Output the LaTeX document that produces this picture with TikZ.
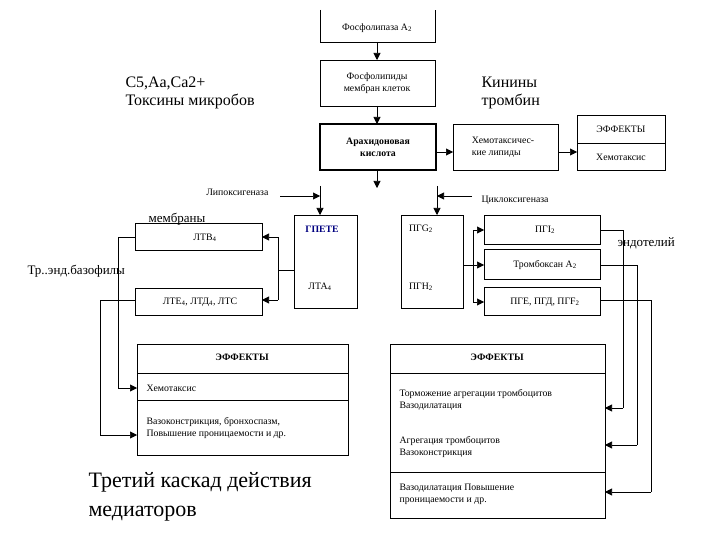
\documentclass[tikz,border=0pt]{standalone}
\usepackage{fontspec}
\setmainfont{Liberation Serif}
\usetikzlibrary{arrows.meta}
\begin{document}
\begin{tikzpicture}[x=1pt,y=-1pt,
  bx/.style={draw,line width=0.6pt},
  sm/.style={font=\fontsize{9.8}{12}\selectfont},
  big/.style={font=\fontsize{16}{18}\selectfont,align=left,anchor=west},
  ar/.style={-{Triangle[length=7pt,width=7pt]},line width=0.6pt},
  ln/.style={line width=0.6pt}]
\useasboundingbox (0,0) rectangle (720,540);
% top chain
\draw[bx] (320,10) -- (320,42) -- (435,42) -- (435,10);
\node[sm] (pla) at (377,28) {Фосфолипаза A\textsubscript{2}};
\draw[bx] (320,60) rectangle (435,106);
\node[sm,align=center] (fl) at (377,83) {Фосфолипиды\\мембран клеток};
\draw[bx,line width=1.8pt] (320,124) rectangle (436,170);
\node[sm,align=center,font=\fontsize{9.8}{12}\selectfont\bfseries] (ak) at (378,147) {Арахидоновая\\кислота};
\draw[ar] (377,42) -- (377,60);
\draw[ar] (377,106) -- (377,124);
\draw[ar] (377,170) -- (377,188);
\draw[bx] (453,124) rectangle (558,170);
\node[sm,align=left] (hl) at (503,147) {Хемотаксичес-\\кие липиды};
\draw[ar] (436,152) -- (453,152);
\draw[bx] (577,115) rectangle (665,170);
\draw[ln] (577,143) -- (665,143);
\node[sm] (ef1) at (621,129) {ЭФФЕКТЫ};
\node[sm] (ef1b) at (621,157) {Хемотаксис};
\draw[ar] (558,152) -- (577,152);
% big labels
\node[big] (c5) at (122,93) {С5,Аа,Са2+\\Токсины микробов};
\node[big] (kin) at (478,93) {Кинины\\тромбин};
% enzymes
\node[sm,anchor=east] (lox) at (272,192) {Липоксигеназа};
\node[sm,anchor=west] (cox) at (478,200) {Циклоксигеназа};
\draw[ar] (320,186) -- (320,215);
\draw[ar] (280,196) -- (320,196);
\draw[ar] (437,186) -- (437,215);
\draw[ar] (472,196) -- (437,196);
% middle boxes
\draw[bx] (294,215) rectangle (357,308);
\node[sm,font=\fontsize{9.8}{12}\selectfont\bfseries,text=blue!50!black] (gpete) at (322,229) {ГПЕТЕ};
\node[sm] (lta) at (320,287) {ЛТА\textsubscript{4}};
\draw[bx] (401,215) rectangle (463,308);
\node[sm] (pgg) at (421,229) {ПГG\textsubscript{2}};
\node[sm] (pgh) at (421,287) {ПГН\textsubscript{2}};
% left boxes
\draw[bx] (135,223) rectangle (262,250);
\node[sm] (ltb) at (205,238) {ЛТВ\textsubscript{4}};
\draw[bx] (135,288) rectangle (262,315);
\node[sm] (lte) at (200,302) {ЛТЕ\textsubscript{4}, ЛТД\textsubscript{4}, ЛТС};
\draw[ln] (294,270) -- (278,270);
\draw[ln] (278,237) -- (278,300);
\draw[ar] (278,237) -- (262,237);
\draw[ar] (278,300) -- (262,300);
\node[big,font=\fontsize{13}{15}\selectfont] (mem) at (145,219) {мембраны};
\node[big,font=\fontsize{13}{15}\selectfont] (tr) at (24,271) {Тр..энд.базофилы};
% right boxes
\draw[bx] (484,215) rectangle (600,244);
\node[sm] (pgi) at (545,230) {ПГI\textsubscript{2}};
\draw[bx] (484,249) rectangle (600,279);
\node[sm] (tx) at (545,265) {Тромбоксан А\textsubscript{2}};
\draw[bx] (484,287) rectangle (600,315);
\node[sm] (pge) at (545,302) {ПГЕ, ПГД, ПГF\textsubscript{2}};
\draw[ln] (463,265) -- (473,265);
\draw[ln] (473,230) -- (473,302);
\draw[ar] (473,230) -- (484,230);
\draw[ar] (473,265) -- (484,265);
\draw[ar] (473,302) -- (484,302);
\node[big,font=\fontsize{13}{15}\selectfont] (endo) at (614,243) {эндотелий};
% left effects
\draw[bx] (137,344) rectangle (348,455);
\draw[ln] (137,373) -- (348,373);
\draw[ln] (137,400) -- (348,400);
\node[sm,font=\fontsize{9.8}{12}\selectfont\bfseries] (ef2) at (242,357) {ЭФФЕКТЫ};
\node[sm,anchor=west] (e21) at (143,388) {Хемотаксис};
\node[sm,anchor=west,align=left] (e22) at (143,428) {Вазоконстрикция, бронхоспазм,\\Повышение проницаемости и др.};
\draw[ln] (135,237) -- (118,237) -- (118,388);
\draw[ar] (118,388) -- (137,388);
\draw[ln] (135,300) -- (100,300) -- (100,435);
\draw[ar] (100,435) -- (137,435);
% right effects
\draw[bx] (390,344) rectangle (605,518);
\draw[ln] (390,373) -- (605,373);
\draw[ln] (390,472) -- (605,472);
\node[sm,font=\fontsize{9.8}{12}\selectfont\bfseries] (ef3) at (497,357) {ЭФФЕКТЫ};
\node[sm,anchor=west,align=left] (e31) at (396,400) {Торможение агрегации тромбоцитов\\Вазодилатация};
\node[sm,anchor=west,align=left] (e32) at (396,447) {Агрегация тромбоцитов\\Вазоконстрикция};
\node[sm,anchor=west,align=left] (e33) at (396,494) {Вазодилатация Повышение\\проницаемости и др.};
\draw[ln] (600,230) -- (623,230) -- (623,408);
\draw[ar] (623,408) -- (605,408);
\draw[ln] (600,265) -- (637,265) -- (637,445);
\draw[ar] (637,445) -- (605,445);
\draw[ln] (600,300) -- (651,300) -- (651,492);
\draw[ar] (651,492) -- (605,492);
% title
\node[big,font=\fontsize{22}{29}\selectfont] (title) at (85,497) {Третий каскад действия\\медиаторов};
\end{tikzpicture}
\end{document}
